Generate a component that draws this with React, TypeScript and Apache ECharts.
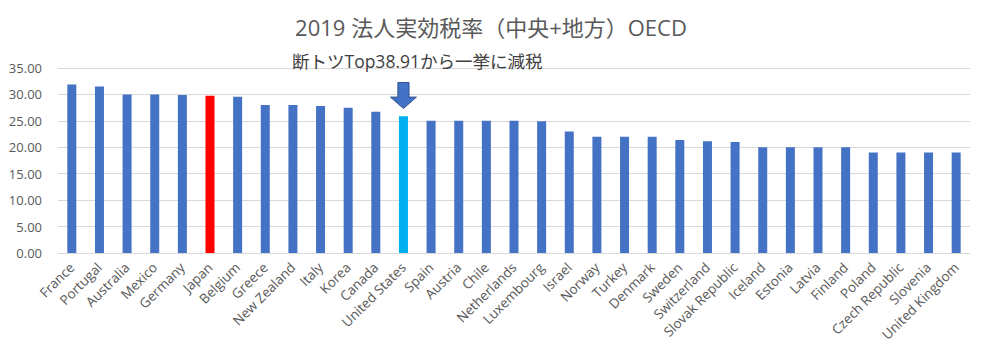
import React, { useEffect, useRef } from "react";
import * as echarts from "echarts";

const countries = [
  "France", "Portugal", "Australia", "Mexico", "Germany", "Japan", "Belgium", "Greece",
  "New Zealand", "Italy", "Korea", "Canada", "United States", "Spain", "Austria", "Chile",
  "Netherlands", "Luxembourg", "Israel", "Norway", "Turkey", "Denmark", "Sweden",
  "Switzerland", "Slovak Republic", "Iceland", "Estonia", "Latvia", "Finland", "Poland",
  "Czech Republic", "Slovenia", "United Kingdom",
];
const rates = [
  31.9, 31.5, 30.0, 30.0, 29.9, 29.74, 29.58, 28.0,
  28.0, 27.81, 27.5, 26.7, 25.89, 25.0, 25.0, 25.0,
  25.0, 24.94, 23.0, 22.0, 22.0, 22.0, 21.4,
  21.15, 21.0, 20.0, 20.0, 20.0, 20.0, 19.0,
  19.0, 19.0, 19.0,
];
const yTicks = [0, 5, 10, 15, 20, 25, 30, 35];
const titleText = "2019 法人実効税率（中央+地方）OECD";
const noteText = "断トツTop38.91から一挙に減税";
const highlightJapan = "Japan";
const highlightUS = "United States";
const arrowValue = 29.8;

const FONT = "'Open Sans', 'Noto Sans CJK JP', sans-serif";

export default function App() {
  const ref = useRef<HTMLDivElement>(null);
  useEffect(() => {
    if (!ref.current) return;
    const chart = echarts.init(ref.current, undefined, { renderer: "svg" });
    const data = countries.map((c, i) => ({
      value: rates[i],
      itemStyle: {
        color: c === highlightJapan ? "#FF0000" : c === highlightUS ? "#00B0F0" : "#4472C4",
      },
    }));
    chart.setOption({
      animation: false,
      backgroundColor: "#ffffff",
      title: {
        text: titleText,
        left: "center",
        top: 11,
        textStyle: { fontFamily: FONT, fontSize: 22, fontWeight: "normal", color: "#595959" },
      },
      graphic: [
        {
          type: "text",
          left: 292,
          top: 52,
          z: 10,
          style: { text: noteText, font: `17.5px ${FONT}`, fill: "#404040" },
        },
      ],
      grid: { left: 58, right: 12, top: 68, bottom: 102, containLabel: false },
      xAxis: {
        type: "category",
        data: countries,
        axisLine: { lineStyle: { color: "#D9D9D9" } },
        axisTick: { show: false },
        axisLabel: {
          interval: 0,
          rotate: 45,
          margin: 12,
          color: "#595959",
          fontFamily: FONT,
          fontSize: 13.5,
        },
      },
      yAxis: {
        type: "value",
        min: yTicks[0],
        max: yTicks[yTicks.length - 1],
        interval: 5,
        axisLine: { show: false },
        axisTick: { show: false },
        splitLine: { lineStyle: { color: "#D9D9D9", width: 1 } },
        axisLabel: {
          color: "#595959",
          fontFamily: FONT,
          fontSize: 13,
          margin: 16,
          formatter: (v: number) => v.toFixed(2),
        },
      },
      series: [
        {
          type: "bar",
          data,
          barWidth: 9,
          markPoint: {
            silent: true,
            data: [{ coord: [highlightUS, arrowValue], value: "" }],
            symbol: "path://M4,0 L10,0 L10,9 L14,9 L7,16 L0,9 L4,9 Z",
            symbolSize: [26, 26],
            symbolOffset: [0, 0],
            itemStyle: { color: "#4472C4", borderColor: "#2F528F", borderWidth: 1 },
            label: { show: false },
          },
        },
      ],
    });
    return () => chart.dispose();
  }, []);
  return <div ref={ref} style={{ width: 982, height: 355, margin: -8 }} />;
}
